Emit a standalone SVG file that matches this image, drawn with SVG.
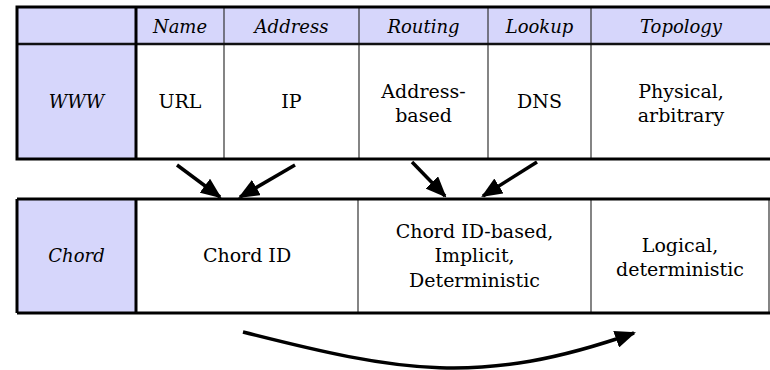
<svg xmlns="http://www.w3.org/2000/svg" width="770" height="370" viewBox="0 0 770 370">
<defs>
<style>
.hd{fill:#d6d6fb}
.cell{fill:#ffffff}
.thick{stroke:#000;stroke-width:3;fill:none}
.mid{stroke:#111;stroke-width:2.5;fill:none}
.thin{stroke:#333;stroke-width:1.2;fill:none}
text{font-size:19px;fill:#000;text-anchor:middle}
.it{font-style:italic;font-size:18px}
.conn{stroke:#000;stroke-width:3.5;fill:none}
</style>
<marker id="ah" markerWidth="6" markerHeight="5" refX="5.4" refY="2.5" orient="auto" markerUnits="strokeWidth">
<path d="M0,0 L6,2.5 L0,5 Z" fill="#000"/>
</marker>
</defs>
<g id="www-table" font-family="DejaVu Serif, serif">
<rect x="17" y="7" width="756" height="152" class="cell"/>
<rect x="17" y="7" width="756" height="37" class="hd"/>
<rect x="17" y="7" width="119" height="152" class="hd"/>
<line x1="224" y1="7" x2="224" y2="159" class="thin"/>
<line x1="359" y1="7" x2="359" y2="159" class="thin"/>
<line x1="488" y1="7" x2="488" y2="159" class="thin"/>
<line x1="591" y1="7" x2="591" y2="159" class="thin"/>
<line x1="17" y1="44" x2="773" y2="44" class="mid"/>
<line x1="136" y1="7" x2="136" y2="159" class="thick"/>
<rect x="17" y="7" width="756" height="152" class="thick"/>
<text x="180" y="33" class="it">Name</text>
<text x="291.5" y="33" class="it">Address</text>
<text x="423.5" y="33" class="it">Routing</text>
<text x="539.5" y="33" class="it">Lookup</text>
<text x="681" y="33" class="it">Topology</text>
<text x="76.5" y="108" class="it">WWW</text>
<text x="180" y="108">URL</text>
<text x="291.5" y="108">IP</text>
<text x="423.5" y="98">Address-</text>
<text x="423.5" y="122">based</text>
<text x="539.5" y="108">DNS</text>
<text x="681" y="98">Physical,</text>
<text x="681" y="122">arbitrary</text>
</g>
<g id="chord-table" font-family="DejaVu Serif, serif">
<rect x="17" y="199" width="752" height="114" class="cell"/>
<rect x="17" y="199" width="119" height="114" class="hd"/>
<line x1="358" y1="199" x2="358" y2="313" class="thin"/>
<line x1="591" y1="199" x2="591" y2="313" class="thin"/>
<line x1="769" y1="199" x2="769" y2="313" class="thin"/>
<line x1="136" y1="199" x2="136" y2="313" class="thick"/>
<line x1="17" y1="199" x2="771" y2="199" class="thick"/>
<line x1="17" y1="313" x2="771" y2="313" class="thick"/>
<line x1="17" y1="199" x2="17" y2="313" class="thick"/>
<text x="76.5" y="262" class="it">Chord</text>
<text x="247" y="262">Chord ID</text>
<text x="474.5" y="238">Chord ID-based,</text>
<text x="474.5" y="262">Implicit,</text>
<text x="474.5" y="287">Deterministic</text>
<text x="680" y="252">Logical,</text>
<text x="680" y="276">deterministic</text>
</g>
<g id="connectors">
<line x1="177" y1="165" x2="220" y2="197" class="conn" marker-end="url(#ah)"/>
<line x1="295" y1="165" x2="240" y2="197" class="conn" marker-end="url(#ah)"/>
<line x1="412" y1="162" x2="445" y2="196" class="conn" marker-end="url(#ah)"/>
<line x1="537" y1="162" x2="483" y2="196" class="conn" marker-end="url(#ah)"/>
<path d="M243,332 C400,372 480,387 634,333" class="conn" marker-end="url(#ah)"/>
</g>
</svg>
